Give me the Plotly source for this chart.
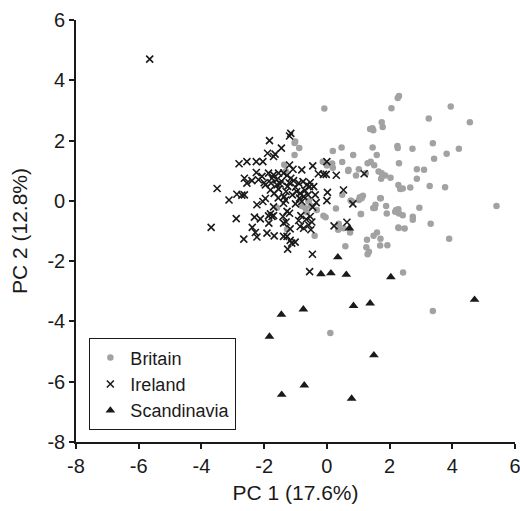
import plotly.graph_objects as go

brit_x = [-0.08, 2.30, 2.26, 2.06, 3.95, 3.25, 4.56, 1.75, 1.78, 1.38, 1.45, 1.48, 5.41, 3.38, 4.21, 3.82, 3.42, 2.73, 2.25, 2.26,
          1.46, 1.59, 0.84, 0.47, 0.19, -0.13, 0.17, 0.49, 1.02, 1.30, 1.40, 1.51, 1.65, 1.75, 1.86, 2.30, 2.87, 3.10, 2.87, 2.03,
          1.73, 0.68, 0.93, 1.24, 3.28, 3.77, 2.66, 2.42, 2.28, 2.34, 1.15, 1.05, 1.02, 1.72, 0.76, 0.49, 0.29, 1.55, 1.53, 1.89,
          1.91, 2.18, 2.28, 2.30, 2.42, 2.95, 2.74, 2.74, 1.09, 2.29, 2.48, 3.31, 3.90, 1.60, 1.49, 1.71, 1.93, 1.70, 1.28, 1.26,
          1.34, 1.30, 0.59, 2.43, 3.38, 0.11, -0.39, 0.36, 0.38, 0.74, 0.53, -0.11, -0.04, -1.36, -1.31, -1.03, -0.88, -1.03, -0.57, -0.51,
          -1.59, -1.27, 0.00, -0.32, -0.64, -0.80, 0.80, 1.11, 1.70, 1.48, 1.08, 2.21, 2.28, 0.40, -0.85, -0.59, -0.69, 0.19, 0.69, -1.01]
brit_y = [3.06, 3.48, 3.41, 3.07, 3.13, 2.73, 2.61, 2.61, 2.45, 2.38, 2.41, 2.34, -0.17, 1.91, 1.73, 1.56, 1.40, 1.73, 1.82, 1.75,
          1.77, 1.52, 1.52, 1.77, 1.65, 1.30, 1.24, 1.29, 1.05, 1.25, 1.30, 1.18, 0.97, 0.92, 0.84, 1.25, 1.05, 1.03, 0.73, 0.77,
          0.73, 0.99, 0.84, 0.92, 0.49, 0.45, 0.44, 0.41, 0.53, 0.39, 0.17, 0.12, 0.03, 0.09, 0.01, 0.20, -0.25, -0.13, -0.24, -0.17,
          -0.42, -0.36, -0.28, -0.42, -0.48, -0.23, -0.53, -0.63, -0.44, -0.90, -0.92, -0.76, -1.26, -1.05, -1.16, -1.26, -1.47, -1.48, -1.29, -1.54,
          -1.69, -1.77, -1.51, -2.38, -3.65, -4.38, -1.16, -0.96, -0.76, -1.05, -0.91, -0.49, -0.54, 1.20, 0.98, 1.92, 1.75, 1.52, 0.00, -0.17,
          -0.23, -0.94, 1.17, -0.30, -0.38, -0.17, -0.02, 0.09, 0.09, -0.24, -0.44, -0.30, -0.88, -0.91, 0.00, -0.02, -0.24, 1.10, 1.03, 1.97]

ire_x = [-5.65, -1.15, -1.19, -1.83, -1.45, -1.65, -1.89, -1.70, -2.80, -2.55, -2.25, -2.04, -1.19, -1.08, -0.80, -0.45, 0.00, -0.27, -0.11, -0.02,
         0.30, 1.19, -2.25, -2.07, -2.63, -2.55, -2.39, -2.18, -1.86, -1.70, -1.54, -1.38, -1.27, -1.15, -1.06, -1.96, -1.78, -1.59, -1.49, -1.80,
         -1.68, -1.54, -3.50, -2.87, -2.71, -2.63, -3.12, -0.90, -0.76, -0.64, -0.53, -0.42, -0.55, -0.96, -0.85, -0.87, -0.80, -0.74, -1.30, -1.36,
         -1.25, -0.37, -0.34, -0.45, 0.02, 0.00, 0.53, 0.83, -2.04, -1.96, -2.23, -1.38, -1.32, -1.80, -1.75, -1.86, -1.70, -1.27, -1.19, -1.40,
         -2.89, -2.31, -2.12, -1.85, -0.83, -0.66, -0.53, -0.48, -0.58, -0.85, -0.74, -0.51, -1.17, -1.38, 0.23, 0.64, -3.69, -2.38, -2.28, -2.23,
         -1.91, -1.68, -1.38, -1.27, -1.17, -1.01, -1.12, -1.25, -2.65, -0.46, -0.55, -1.60, -1.45, -1.20, -1.00, -0.70, -1.10, -1.55, -1.70, -1.00,
         -0.60, -1.75, -2.00, -1.30, -0.90]
ire_y = [4.70, 2.24, 2.15, 2.00, 1.75, 1.55, 1.58, 1.47, 1.23, 1.30, 1.30, 1.30, 1.19, 1.05, 1.03, 1.16, 1.30, 0.90, 0.88, 0.88,
         0.85, 0.90, 0.94, 0.81, 0.75, 0.59, 0.67, 0.70, 0.92, 0.86, 0.92, 0.92, 0.84, 0.75, 0.67, 0.53, 0.59, 0.53, 0.56, 0.36,
         0.25, 0.39, 0.41, 0.22, 0.19, 0.20, 0.03, 0.59, 0.64, 0.53, 0.61, 0.47, 0.47, 0.31, 0.25, 0.09, -0.02, 0.14, 0.31, 0.14,
         0.48, 0.20, -0.06, -0.21, 0.28, 0.01, 0.36, -0.10, -0.02, 0.08, -0.13, -0.08, 0.03, -0.43, -0.52, -0.50, -0.49, -0.35, -0.41, -0.52,
         -0.59, -0.54, -0.60, -0.74, -0.49, -0.61, -0.52, -0.70, -0.80, -0.85, -0.91, -0.96, -0.93, -0.74, -0.83, -0.71, -0.88, -0.88, -1.05, -1.20,
         -1.07, -1.16, -1.18, -1.18, -1.31, -1.37, -1.40, -1.60, -1.27, -1.77, -2.35, 0.70, 0.65, 0.60, 0.45, 0.35, 0.20, 0.10, -0.20, -0.10,
         0.20, 0.75, 0.60, -0.70, -0.65]

scan_x = [0.72, 0.35, -0.19, 0.13, 0.62, 2.04, 4.71, 0.85, 1.38, -0.75, -1.45, -1.83, 1.50, -0.72, -1.44, 0.79]
scan_y = [-0.91, -1.87, -2.43, -2.40, -2.45, -2.53, -3.28, -3.48, -3.40, -3.60, -3.77, -4.50, -5.12, -6.12, -6.43, -6.56]

tick_vals = [-8, -6, -4, -2, 0, 2, 4, 6]
x_title = "PC 1 (17.6%)"
y_title = "PC 2 (12.8%)"

FONT = "Liberation Sans, Arial, Helvetica, sans-serif"
INK = "#1a1a1a"
FS_TICK = 20
FS_TITLE = 21
FS_LEG = 18

fig = go.Figure()
fig.add_trace(go.Scatter(x=brit_x, y=brit_y, mode="markers", name="Britain",
                         marker=dict(symbol="circle", size=6.5, color="#a2a2a2", line=dict(width=0))))
fig.add_trace(go.Scatter(x=ire_x, y=ire_y, mode="markers", name="Ireland",
                         marker=dict(symbol="x-thin", size=7, color=INK, line=dict(width=1.6, color=INK))))
fig.add_trace(go.Scatter(x=scan_x, y=scan_y, mode="markers", name="Scandinavia",
                         marker=dict(symbol="triangle-up", size=8.5, color=INK, line=dict(width=0))))

axis_common = dict(range=[-8, 6], tickvals=tick_vals, ticktext=[str(v) for v in tick_vals],
                   showgrid=False, zeroline=False, showline=True, linecolor=INK, linewidth=1.6,
                   ticks="outside", ticklen=5, tickwidth=1.5, tickcolor=INK, mirror=False,
                   automargin=False, ticklabeloverflow="allow",
                   tickfont=dict(family=FONT, size=FS_TICK, color=INK))

fig.update_xaxes(**axis_common, title=dict(text=x_title, font=dict(family=FONT, size=FS_TITLE, color=INK), standoff=10))
fig.update_yaxes(**axis_common, title=dict(text=y_title, font=dict(family=FONT, size=FS_TITLE, color=INK), standoff=14))

fig.update_layout(
    width=520, height=511,
    margin=dict(l=76, r=5, t=20, b=69),
    paper_bgcolor="white", plot_bgcolor="white",
    font=dict(family=FONT, size=FS_TICK, color=INK),
    showlegend=True,
    legend=dict(x=0.03, y=0.028, xanchor="left", yanchor="bottom",
                bgcolor="white", bordercolor=INK, borderwidth=1.2,
                font=dict(family=FONT, size=FS_LEG, color=INK),
                itemwidth=30, tracegroupgap=0),
)

fig.write_html("out.html", config={"displayModeBar": False},
               post_script="document.body.style.margin='0';document.body.style.padding='0';")
